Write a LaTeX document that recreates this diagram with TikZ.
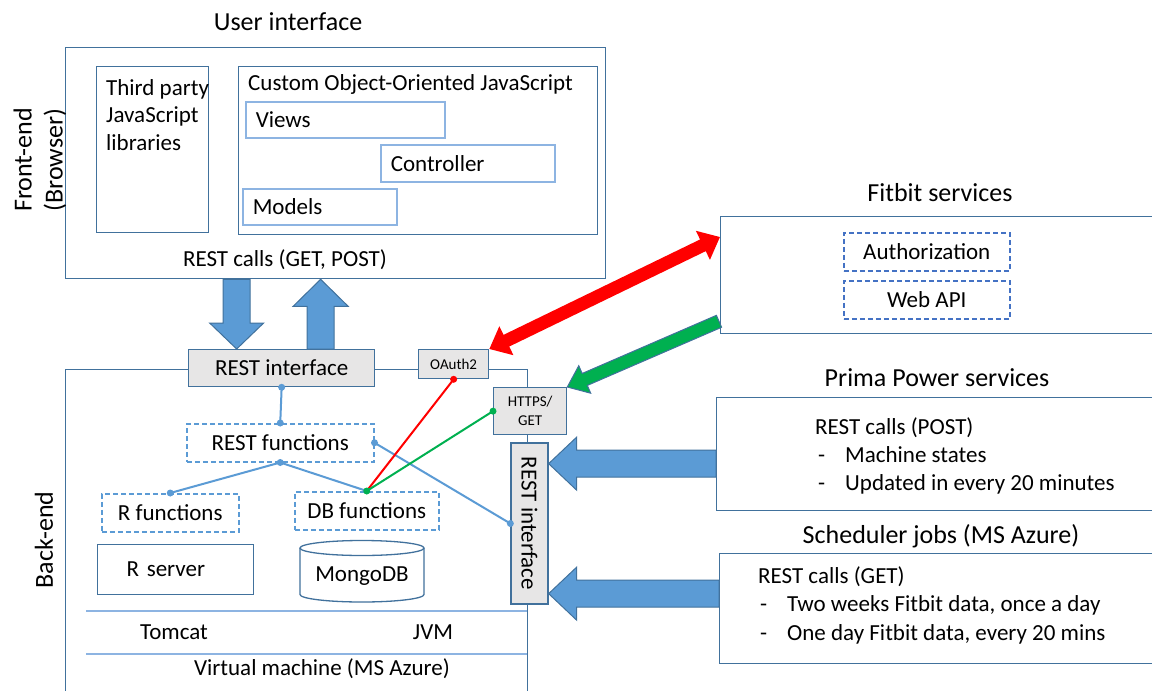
\documentclass[tikz,border=0pt]{standalone}
\usepackage{fontspec}
\setmainfont{Carlito}
\usetikzlibrary{calc,arrows.meta}

\definecolor{boxblue}{RGB}{65,113,156}
\definecolor{softblue}{RGB}{141,180,226}
\definecolor{lineblue}{RGB}{91,155,213}
\definecolor{fitdash}{RGB}{68,114,196}
\definecolor{graybg}{RGB}{231,230,230}
\definecolor{okgreen}{RGB}{0,176,80}

\newcommand{\titlefont}{\fontsize{26}{31}\selectfont}
\newcommand{\bodyfont}{\fontsize{23}{27.5}\selectfont}
\newcommand{\smallfont}{\fontsize{15}{19}\selectfont}

% fat block arrow: [fill], start, end, half shaft, half head, head length
\newcommand{\fatarrow}[6][lineblue]{%
  \coordinate (fa-s) at (#2);
  \coordinate (fa-e) at (#3);
  \coordinate (fa-h) at ($(fa-e)!#6!(fa-s)$);
  \filldraw[fill=#1, draw=boxblue, line width=1pt]
    ($(fa-s)!#4!90:(fa-e)$) -- ($(fa-h)!#4!90:(fa-e)$) -- ($(fa-h)!#5!90:(fa-e)$)
    -- (fa-e) -- ($(fa-h)!#5!-90:(fa-e)$) -- ($(fa-h)!#4!-90:(fa-e)$)
    -- ($(fa-s)!#4!-90:(fa-e)$) -- cycle;
}

\tikzset{
  every node/.append style={font=\bodyfont},
  title/.style={font=\titlefont},
  frame/.style={draw=boxblue, line width=1.3pt, fill=white, inner sep=0pt, anchor=north west},
  inbox/.style={draw=softblue, line width=1.5pt, fill=white, anchor=north west, inner xsep=10pt, inner ysep=0pt, align=left},
  grayb/.style={draw=boxblue, line width=1.3pt, fill=graybg, inner sep=0pt},
  dbox/.style={draw=lineblue, line width=1.5pt, dash pattern=on 5pt off 3pt, fill=white, inner sep=0pt, anchor=north west},
  link/.style={draw=lineblue, line width=2pt},
  layer/.style={draw=softblue, line width=1.5pt}
}

\begin{document}
\begin{tikzpicture}[x=1pt, y=-1pt]
    \clip (0,0) rectangle (1152,691);
    % front-end
    \node[title] (uit) at (288,22) {User interface};
    \node[frame, minimum width=540, minimum height=231] (fe) at (65,47) {};
    \node[title, rotate=90, align=center] (felbl) at (40,160) {Front-end\\(Browser)};
    \node[frame, minimum width=112, minimum height=166] (third) at (96,66) {};
    \node[anchor=north west, inner sep=0pt, align=left] (thirdtxt) at (106,79) {Third party\\JavaScript\\libraries};
    \node[frame, minimum width=359, minimum height=168] (oo) at (238,66) {};
    \node[anchor=base west, inner sep=0pt] (ootxt) at (248,90) {Custom Object-Oriented JavaScript};
    \node[inbox, minimum height=36, text width=179] (views) at (245,101) {Views};
    \node[inbox, minimum height=37, text width=154] (ctrl) at (380,144) {Controller};
    \node[inbox, minimum height=36, text width=134] (models) at (242,188) {Models};
    \node (calls) at (285,260) {REST calls (GET, POST)};

    % back-end
    \node[frame, minimum width=462, minimum height=340] (be) at (65,369) {};
    \node[title, rotate=90] (belbl) at (44,540) {Back-end};
    \node[grayb, anchor=north west, minimum width=186, minimum height=37] (restif) at (188,349) {REST interface};
    \node[grayb, anchor=north west, minimum width=70, minimum height=29, font=\smallfont] (oauth) at (418,349) {OAuth2};
    \node[grayb, anchor=north west, minimum width=73, minimum height=47, font=\smallfont, align=center] (https) at (493,387) {HTTPS/\\GET};
    \node[grayb, rotate=-90, minimum width=161, minimum height=37] (restv) at (529.5,523.5) {REST interface};
    \node[dbox, minimum width=187, minimum height=38] (restfn) at (186,423) {REST functions};
    \node[dbox, minimum width=137, minimum height=38] (rfn) at (101,493) {R functions};
    \node[dbox, minimum width=144, minimum height=38] (dbfn) at (294,491) {DB functions};
    \node[frame, minimum width=156, minimum height=50, inner xsep=29pt, text width=98, align=left] (rsrv) at (97,544) {R server};
    \draw[draw=boxblue, line width=1.3pt, fill=white] (300,548) -- (300,594.5)
        arc[start angle=180, end angle=360, x radius=62pt, y radius=7.5pt] -- (424,548);
    \draw[draw=boxblue, line width=1.3pt] (362,548) ellipse [x radius=62pt, y radius=7.5pt];
    \node (mongo) at (362,576) {MongoDB};
    \draw[layer] (86,611) -- (527,611);
    \draw[layer] (86,654) -- (527,654);
    \node (tomcat) at (174,632) {Tomcat};
    \node (jvm) at (433,632) {JVM};
    \node (vm) at (322,669) {Virtual machine (MS Azure)};

    % links inside the back-end
    \draw[link] (restif.south) -- (restfn.north);
    \draw[link] (restfn.south) -- (rfn.north);
    \draw[link] (restfn.south) -- (dbfn.north);
    \draw[link] (restfn.east) -- (restv.south);
    \draw[red, line width=2pt] (oauth.south) -- (dbfn.north);
    \draw[okgreen, line width=2pt] (https.west) -- (dbfn.north);
    \foreach \p in {restif.south, restfn.north, restfn.south, rfn.north, restfn.east, restv.south}
        \fill[lineblue] (\p) circle (3.5pt);
    \fill[red] (oauth.south) circle (3.5pt);
    \foreach \p in {https.west, dbfn.north}
        \fill[okgreen] (\p) circle (3.5pt);

    % services
    \node[title] (fittl) at (940,193) {Fitbit services};
    \node[frame, minimum width=460, minimum height=117] (fit) at (720,216) {};
    \node[dbox, draw=fitdash, minimum width=166, minimum height=38] (auth) at (843,232) {Authorization};
    \node[dbox, draw=fitdash, minimum width=166, minimum height=38] (webapi) at (843,280) {Web API};
    \node[title] (pptl) at (937,378) {Prima Power services};
    \node[frame, minimum width=460, minimum height=113] (pp) at (716,397) {};
    \node[anchor=north west, inner sep=0pt, align=left, font=\fontsize{23}{28}\selectfont] (pptxt) at (815,417)
        {REST calls (POST)\\\hspace*{3pt}\makebox[27pt][l]{-}Machine states\\\hspace*{3pt}\makebox[27pt][l]{-}Updated in every 20 minutes};
    \node[title] (sjtl) at (941,536) {Scheduler jobs (MS Azure)};
    \node[frame, minimum width=460, minimum height=110] (sj) at (719,553) {};
    \node[anchor=north west, inner sep=0pt, align=left, font=\fontsize{23}{28.5}\selectfont] (sjtxt) at (758,566)
        {REST calls (GET)\\\hspace*{2pt}\makebox[27pt][l]{-}Two weeks Fitbit data, once a day\\\hspace*{2pt}\makebox[27pt][l]{-}One day Fitbit data, every 20 mins};

    % block arrows
    \fatarrow{$(fe.south)+(-99,0)$}{$(restif.north)+(-45,0)$}{13.5pt}{27pt}{26pt}
    \fatarrow{$(restif.north)+(39,0)$}{$(fe.south)+(-15,0)$}{13.5pt}{27.5pt}{27pt}
    \coordinate (ppA) at ($(pp.west)+(0,9.5)$);
    \fatarrow{ppA}{restv.north |- ppA}{13.5pt}{26.5pt}{28pt}
    \coordinate (sjA) at ($(sj.west)+(0,-15)$);
    \fatarrow{sjA}{restv.north |- sjA}{13.5pt}{26.5pt}{28pt}
    \draw[red, line width=13pt, {Triangle[width=31pt,length=19pt]}-{Triangle[width=31pt,length=19pt]}]
        (oauth.north east) -- ($(fit.north west)+(0,21)$);
    \fatarrow[okgreen]{$(fit.south west)+(-1,-13)$}{https.north east}{6.5pt}{15pt}{19pt}
\end{tikzpicture}
\end{document}
